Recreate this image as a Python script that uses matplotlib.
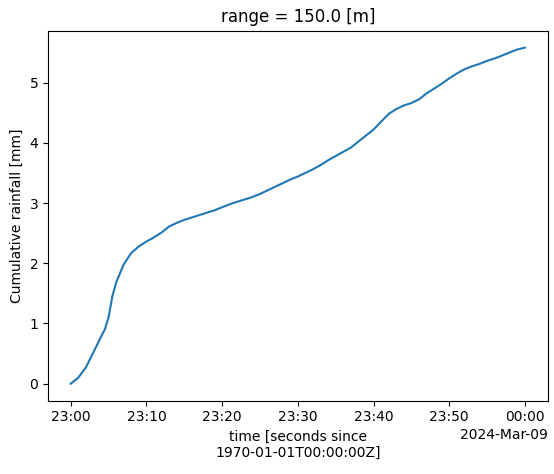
import numpy as np
import matplotlib
matplotlib.use("Agg")
import matplotlib.pyplot as plt
import matplotlib.dates as mdates

minutes = [0, 1, 2, 3, 4, 4.5, 5, 5.5, 6, 7, 8, 9, 10, 11, 12, 13, 14, 15, 16, 17, 18, 19, 20,
           21, 22, 23, 24, 25, 26, 27, 28, 29, 30, 31, 32, 33, 34, 35, 36, 37, 38, 39,
           40, 41, 42, 43, 44, 45, 46, 47, 48, 49, 50, 51, 52, 53, 54, 55, 56, 57, 58, 59, 60]
rain = [0.0, 0.1, 0.27, 0.52, 0.78, 0.9, 1.1, 1.45, 1.68, 1.98, 2.17, 2.28, 2.36, 2.43, 2.51,
        2.61, 2.67, 2.72, 2.76, 2.8, 2.84, 2.88, 2.93, 2.98, 3.02, 3.06, 3.1, 3.15, 3.21,
        3.27, 3.33, 3.39, 3.44, 3.5, 3.56, 3.63, 3.71, 3.78, 3.85, 3.92, 4.02, 4.12, 4.22,
        4.35, 4.48, 4.56, 4.62, 4.66, 4.72, 4.82, 4.9, 4.98, 5.07, 5.15, 5.22, 5.27, 5.31,
        5.36, 5.4, 5.45, 5.5, 5.55, 5.58]

start = np.datetime64("2024-03-08T23:00")
times = start + (np.array(minutes) * 60).astype("timedelta64[s]")

fig, ax = plt.subplots(figsize=(5.54, 4.74), dpi=100)
ax.plot(times, rain, color="#1f77b4")
ax.xaxis.set_major_locator(mdates.MinuteLocator(byminute=range(0, 60, 10)))
ax.xaxis.set_major_formatter(mdates.DateFormatter("%H:%M"))
ax.set_xlabel("time [seconds since\n1970-01-01T00:00:00Z]")
ax.set_ylabel("Cumulative rainfall [mm]")
ax.set_title("range = 150.0 [m]")
ax.annotate("2024-Mar-09", xy=(1, 0), xycoords="axes fraction", xytext=(0, -20),
            textcoords="offset points", ha="right", va="top")
fig.subplots_adjust(left=0.09, right=0.99, top=0.935, bottom=0.155)
ax.set_position([0.0866, 0.155, 0.902, 0.78])
fig.savefig("out.png")
